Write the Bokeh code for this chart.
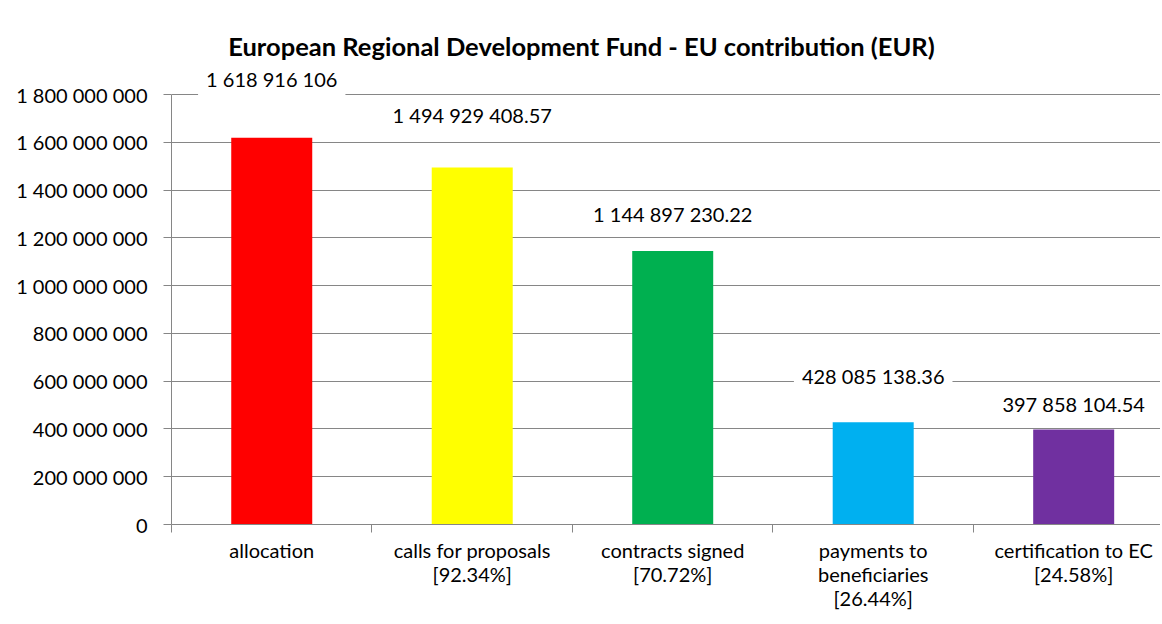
from bokeh.plotting import figure
from bokeh.models import ColumnDataSource, Label, FixedTicker, Range1d
from bokeh.core.properties import value
from bokeh.embed import file_html
from bokeh.resources import INLINE

# ---- data ----
categories = [
    "allocation",
    "calls for proposals\n[92.34%]",
    "contracts signed\n[70.72%]",
    "payments to\nbeneficiaries\n[26.44%]",
    "certification to EC\n[24.58%]",
]
values = [1618916106, 1494929408.57, 1144897230.22, 428085138.36, 397858104.54]
value_labels = ["1 618 916 106", "1 494 929 408.57", "1 144 897 230.22",
                "428 085 138.36", "397 858 104.54"]
colors = ["#FF0000", "#FFFF00", "#00B050", "#00B0F0", "#7030A0"]
y_ticks = [0, 200000000, 400000000, 600000000, 800000000, 1000000000,
           1200000000, 1400000000, 1600000000, 1800000000]
y_tick_labels = ["0", "200 000 000", "400 000 000", "600 000 000", "800 000 000",
                 "1 000 000 000", "1 200 000 000", "1 400 000 000",
                 "1 600 000 000", "1 800 000 000"]
title_text = "European Regional Development Fund - EU contribution (EUR)"

# ---- styling / layout ----
label_offsets = [-59, -52, -37, -46, -25]   # px (screen, negative = up)
FONT = "Lato"
GRAY = "#868686"

centers = [i + 0.5 for i in range(len(categories))]
boundaries = list(range(len(categories) + 1))

src = ColumnDataSource(dict(x=centers, top=values, color=colors,
                            label=value_labels, off=label_offsets))

p = figure(width=1160, height=620, x_range=Range1d(0, 4.933),
           y_range=Range1d(0, 2.1935e9), output_backend="svg",
           toolbar_location=None, min_border_left=171, min_border_right=0,
           min_border_top=0, min_border_bottom=96)
p.outline_line_color = None
p.background_fill_color = "white"

p.vbar(x="x", top="top", width=0.404, fill_color="color", line_color=None, source=src)

# x axis
xa = p.xaxis[0]
xa.ticker = FixedTicker(ticks=centers, minor_ticks=boundaries)
xa.major_label_overrides = {c: t for c, t in zip(centers, categories)}
xa.major_tick_line_color = None
xa.minor_tick_line_color = GRAY
xa.minor_tick_out = 8
xa.minor_tick_in = 0
xa.axis_line_color = GRAY
xa.major_label_standoff = 5
xa.major_label_text_font = FONT
xa.major_label_text_font_size = "20px"
xa.major_label_text_line_height = 1.0
xa.major_label_text_color = "black"

# y axis
ya = p.yaxis[0]
ya.ticker = FixedTicker(ticks=y_ticks)
ya.major_label_overrides = {t: l for t, l in zip(y_ticks, y_tick_labels)}
ya.bounds = (0, 1800000000)
ya.minor_tick_line_color = None
ya.major_tick_out = 8
ya.major_tick_in = 0
ya.major_tick_line_color = GRAY
ya.axis_line_color = GRAY
ya.major_label_standoff = 16
ya.major_label_text_font = FONT
ya.major_label_text_font_size = "20px"
ya.major_label_text_color = "black"

p.xgrid.visible = False
p.ygrid.ticker = FixedTicker(ticks=y_ticks)
p.ygrid.grid_line_color = GRAY

p.text(x="x", y="top", text="label", y_offset="off", source=src,
       text_align="center", text_baseline="middle",
       text_font=value(FONT), text_font_size="20px", text_color="black",
       background_fill_color="white", padding=8)

p.add_layout(Label(x=2.045, y=2.005e9, text=title_text, text_font=FONT,
                   text_font_style="bold", text_font_size="25.5px",
                   text_align="center", text_baseline="middle", text_color="black"))

open("out.html", "w").write(file_html(p, INLINE))
